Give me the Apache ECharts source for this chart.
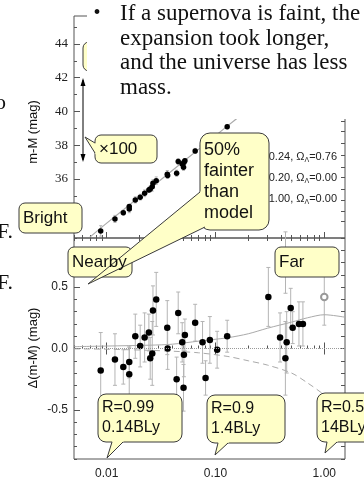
<!DOCTYPE html>
<html>
<head>
<meta charset="utf-8">
<script src="https://cdn.jsdelivr.net/npm/echarts@6.0.0/dist/echarts.min.js"></script>
<style>
html, body { margin: 0; padding: 0; background: #fff; }
#main { width: 364px; height: 485px; }
</style>
</head>
<body>
<div id="main"></div>
<script>
// supernovae: redshift, distance modulus (top), residual vs empty-ish model (bottom), error
var snZ     = [0.0088, 0.0119, 0.0142, 0.0161, 0.0161, 0.0183, 0.0203, 0.0223, 0.0244, 0.0251, 0.0262, 0.0266, 0.0285,
               0.0360, 0.0363, 0.0454, 0.0439, 0.0494, 0.0523, 0.0512, 0.0508, 0.0650, 0.0760, 0.0810, 0.0887, 0.1035, 0.1280,
               0.306, 0.392, 0.439, 0.451, 0.491, 0.512, 0.585, 0.636, 0.440];
var snMu    = [32.92, 33.63, 34.00, 34.36, 34.22, 34.76, 34.92, 35.15, 35.35, 35.41, 35.54, 35.75, 35.90,
               36.28, 36.20, 37.03, 36.34, 36.89, 37.08, 36.97, 36.70, 37.66, 37.95, 37.80, 38.25, 38.45, 39.10,
               41.55, 41.75, 41.95, 42.10, 42.55, 42.45, 42.80, 43.00, 42.70];
var snDelta = [-0.18, -0.09, -0.15, -0.11, -0.21, 0.10, 0.02, 0.09, 0.13, -0.08, -0.04, 0.31, 0.40,
               0.17, 0.00, 0.29, -0.25, 0.05, 0.11, -0.05, -0.32, 0.21, 0.05, -0.24, 0.07, -0.01, 0.10,
               0.42, 0.09, -0.08, 0.05, 0.33, 0.17, 0.20, 0.20, 0.70];
var snErr   = [0.31, 0.21, 0.14, 0.13, 0.22, 0.18, 0.17, 0.20, 0.15, 0.17, 0.26, 0.20, 0.22,
               0.22, 0.17, 0.17, 0.18, 0.16, 0.13, 0.18, 0.19, 0.15, 0.17, 0.14, 0.19, 0.15, 0.13,
               0.24, 0.20, 0.30, 0.25, 0.16, 0.13, 0.18, 0.18, 0.25];
// the one open symbol
var openZ = [1.0];
var openMu = [44.3];
var openDelta = [0.42];
var openErr = [0.23];

// Hubble line in the top panel
var fitZ  = [0.007, 0.01, 0.02, 0.05, 0.1, 0.15, 0.2, 0.3, 0.5, 0.7, 1.0, 1.55];
var fitMu = [32.55, 33.38, 34.94, 37.0, 38.57, 39.48, 40.1, 41.0, 42.15, 42.9, 43.8, 44.8];

// model curves in the bottom panel
var curveZ      = [0.005, 0.01, 0.025, 0.04, 0.07, 0.13, 0.2, 0.3, 0.5, 0.7, 1.0, 1.55];
var lambdaDelta = [0.015, 0.02, 0.027, 0.035, 0.06, 0.088, 0.12, 0.165, 0.215, 0.25, 0.275, 0.255];
var matterDelta = [-0.003, -0.006, -0.015, -0.022, -0.035, -0.065, -0.1, -0.135, -0.2, -0.28, -0.38, -0.55];

// ticks
var xLabels = [0.01, 0.1, 1];
var xMinor = [0.005, 0.006, 0.007, 0.008, 0.009, 0.02, 0.03, 0.04, 0.05, 0.06, 0.07, 0.08, 0.09,
              0.2, 0.3, 0.4, 0.5, 0.6, 0.7, 0.8, 0.9];
var topLabels = [34, 36, 38, 40, 42, 44];
var topMinor = [33, 35, 37, 39, 41, 43, 45];
var topRight = [33.5, 34.1, 34.75, 35.4, 36.1, 36.7, 37.4, 38.1, 38.8, 39.45];
var botLabels = [-0.5, 0, 0.5];
var botMinor = [-0.9, -0.8, -0.7, -0.6, -0.4, -0.3, -0.2, -0.1, 0.1, 0.2, 0.3, 0.4, 0.6, 0.7, 0.8, 0.9];
var botRight = [-0.9, -0.8, -0.7, -0.6, -0.5, -0.4, -0.3, -0.2, -0.1, 0, 0.1, 0.2, 0.3, 0.4, 0.5, 0.6, 0.7, 0.8, 0.9];

var modelNames = [['0.24', '0.76'], ['0.20', '0.00'], ['1.00', '0.00']];

var xMin = 0.005, xMax = 1.55;
var frame = '#555';
var boxFill = '#ffffc8', boxLine = '#3a3a3a';
var sans = 'Liberation Sans', serif = 'Liberation Serif';

function xPart(grid, pos, ticks, len, labels) {
  return {
    type: 'log', logBase: 10, gridIndex: grid, position: pos, min: xMin, max: xMax,
    axisLine: { show: false },
    splitLine: { show: false },
    axisTick: { show: true, inside: true, length: len, customValues: ticks, lineStyle: { color: frame } },
    axisLabel: labels ? {
      show: true, customValues: labels, margin: 9, fontSize: 12, fontFamily: sans, color: '#222',
      formatter: function(v) { return (+v).toFixed(2); }
    } : { show: false }
  };
}

function yPart(grid, pos, min, max, ticks, len, labels, fmt, font) {
  return {
    type: 'value', gridIndex: grid, position: pos, min: min, max: max,
    axisLine: { show: false },
    splitLine: { show: false },
    axisTick: { show: true, inside: true, length: len, customValues: ticks, lineStyle: { color: frame } },
    axisLabel: labels ? {
      show: true, customValues: labels, margin: 6, fontSize: font == serif ? 13 : 12, fontFamily: font, color: '#222',
      formatter: fmt
    } : { show: false }
  };
}

function pairs(xs, ys) {
  return xs.map(function(x, i) { return [x, ys[i]]; });
}

function errorSeries(xi, yi, xs, ys, es, cap) {
  return {
    type: 'custom', xAxisIndex: xi, yAxisIndex: yi, clip: false, z: 1, silent: true,
    encode: { x: 0, y: 1 },
    data: xs.map(function(x, i) { return [x, ys[i], es[i]]; }),
    renderItem: function(params, api) {
      var lo = api.coord([api.value(0), api.value(1) - api.value(2)]);
      var hi = api.coord([api.value(0), api.value(1) + api.value(2)]);
      var st = { stroke: '#b4b4b4', lineWidth: 1 };
      return { type: 'group', children: [
        { type: 'line', shape: { x1: lo[0], y1: lo[1], x2: hi[0], y2: hi[1] }, style: st },
        { type: 'line', shape: { x1: lo[0] - cap, y1: lo[1], x2: lo[0] + cap, y2: lo[1] }, style: st },
        { type: 'line', shape: { x1: hi[0] - cap, y1: hi[1], x2: hi[0] + cap, y2: hi[1] }, style: st }
      ] };
    }
  };
}

// speech-bubble annotations
function callout(x, y, w, h, r, tail, lines, size, gap) {
  var els = [];
  els.push({ type: 'rect', z: 100, shape: { x: x, y: y, width: w, height: h, r: r },
    style: { fill: boxFill, stroke: boxLine, lineWidth: 1 } });
  if (tail) {
    var t = tail[1];
    var inner = [tail[0], tail[2]].map(function(b) {
      var dx = b[0] - t[0], dy = b[1] - t[1], d = Math.sqrt(dx * dx + dy * dy);
      return [b[0] + dx / d * 2, b[1] + dy / d * 2];
    });
    els.push({ type: 'polygon', z: 100, shape: { points: [inner[0], t, inner[1]] }, style: { fill: boxFill } });
    els.push({ type: 'polyline', z: 100, shape: { points: tail }, style: { fill: 'none', stroke: boxLine, lineWidth: 1 } });
  }
  lines.forEach(function(s, i) {
    els.push(label(s, x + 4, y + h / 2 - (lines.length - 1) * gap / 2 + i * gap, size + 'px ' + sans, 'left'));
  });
  return els;
}

function label(s, x, y, font, align, rot) {
  return { type: 'text', z: 101, x: x, y: y, rotation: rot || 0,
    style: { text: s, x: 0, y: 0, font: font, fill: '#111', align: align, textAlign: align,
      verticalAlign: 'middle', textVerticalAlign: 'middle' } };
}

var graphics = [];
// bubble hiding behind the text box
graphics = graphics.concat(callout(83, 42, 70, 29, 6, null, [], 17, 0));
// slide text box
graphics.push({ type: 'rect', z: 100, shape: { x: 87, y: 0, width: 277, height: 119 }, style: { fill: '#fff' } });
graphics.push(label('\u2022', 97, 14, '20px ' + serif, 'center'));
['If a supernova is faint, the', 'expansion took longer,', 'and the universe has less', 'mass.'].forEach(function(s, i) {
  graphics.push(label(s, 120, 14 + i * 24.5, '23px ' + serif, 'left'));
});
// cut-off slide text at the left edge
graphics.push(label('o', -5, 103, '22px ' + serif, 'left'));
graphics.push(label('F.', -3, 232, '22px ' + serif, 'left'));
graphics.push(label('F.', -3, 283, '22px ' + serif, 'left'));

// x100 arrow
graphics.push({ type: 'line', z: 100, shape: { x1: 83, y1: 80, x2: 83, y2: 160 }, style: { stroke: '#000', lineWidth: 1 } });
graphics.push({ type: 'polygon', z: 100, shape: { points: [[80.5, 86], [83, 78], [85.5, 86]] }, style: { fill: '#000' } });
graphics.push({ type: 'polygon', z: 100, shape: { points: [[80.5, 154], [83, 162], [85.5, 154]] }, style: { fill: '#000' } });

graphics = graphics.concat(callout(95, 135, 62, 28, 6, [[95, 143], [85, 137], [95, 153]], ['\u00d7100'], 17, 0));
graphics = graphics.concat(callout(19, 203, 63, 30, 6, null, ['Bright'], 17, 0));

// model legend in the top panel
modelNames.forEach(function(m, i) {
  graphics.push({ type: 'text', z: 99, x: 337, y: 157 + i * 21,
    style: { text: '\u03a9{s|M}=' + m[0] + ', \u03a9{s|\u039b}=' + m[1], x: 0, y: 0,
      font: '11px ' + sans, fill: '#222', align: 'right', textAlign: 'right', verticalAlign: 'middle', textVerticalAlign: 'middle',
      rich: { s: { fontSize: 7, fontFamily: sans, fill: '#222', padding: [6, 0, 0, 0] } } } });
});

graphics = graphics.concat(callout(68, 247, 64, 30, 6, null, ['Nearby'], 17, 0));
graphics = graphics.concat(callout(275, 247, 64, 30, 6, null, ['Far'], 17, 0));
graphics = graphics.concat(callout(200, 133, 69, 97, 10, [[200, 192], [88, 284], [205, 227]], ['50%', 'fainter', 'than', 'model'], 18, 21));
graphics = graphics.concat(callout(98, 394, 84, 48, 8, [[112, 442], [107, 458], [123, 442]], ['R=0.99', '0.14BLy'], 16, 20));
graphics = graphics.concat(callout(207, 395, 78, 48, 8, [[218, 443], [215, 455], [228, 443]], ['R=0.9', '1.4BLy'], 16, 20));
graphics = graphics.concat(callout(317, 393, 60, 49, 8, [[327, 442], [325, 453], [337, 442]], ['R=0.5', '14BLy'], 16, 20));

// axis titles
graphics.push(label('m-M (mag)', 33, 132, '13px ' + sans, 'center', Math.PI / 2));
graphics.push(label('\u0394(m-M) (mag)', 33, 348, '13px ' + sans, 'center', Math.PI / 2));

var chart = echarts.init(document.getElementById('main'));
var option = {
  animation: false,
  backgroundColor: '#fff',
  grid: [
    { left: 74, top: 16, width: 271, height: 222, show: true, borderColor: frame, borderWidth: 1, backgroundColor: 'transparent', outerBoundsMode: 'none' },
    { left: 74, top: 238, width: 271, height: 221, show: true, borderColor: frame, borderWidth: 1, backgroundColor: 'transparent', outerBoundsMode: 'none' }
  ],
  xAxis: [
    xPart(0, 'bottom', xLabels, 6, null),
    xPart(0, 'bottom', xMinor, 3, null),
    xPart(1, 'bottom', xLabels, 6, xLabels),
    xPart(1, 'bottom', xMinor, 3, null),
    xPart(1, 'top', xLabels, 6, null),
    xPart(1, 'top', xMinor, 3, null)
  ],
  yAxis: [
    yPart(0, 'left', 32.5, 45.66, topLabels, 6, topLabels, function(v) { return Math.round(v); }, serif),
    yPart(0, 'left', 32.5, 45.66, topMinor, 3, null),
    yPart(0, 'right', 32.5, 45.66, topRight, 4, null),
    yPart(1, 'left', -0.9, 0.9, botLabels, 6, botLabels, function(v) { return (+v).toFixed(1); }, sans),
    yPart(1, 'left', -0.9, 0.9, botMinor, 3, null),
    yPart(1, 'right', -0.9, 0.9, botRight, 4, null)
  ],
  graphic: { elements: graphics },
  series: [
    { type: 'line', xAxisIndex: 0, yAxisIndex: 0, data: pairs(fitZ, fitMu), smooth: 0.3, showSymbol: false, silent: true,
      lineStyle: { color: '#aaa', width: 1.2 }, z: 1 },
    errorSeries(0, 0, snZ, snMu, snErr, 1.5),
    { type: 'scatter', xAxisIndex: 0, yAxisIndex: 0, data: pairs(snZ, snMu), symbolSize: 5.5, itemStyle: { color: '#000', opacity: 1 } },
    { type: 'scatter', xAxisIndex: 0, yAxisIndex: 0, data: pairs(openZ, openMu), symbol: 'emptyCircle', symbolSize: 6, itemStyle: { color: '#999', opacity: 1 } },

    { type: 'line', xAxisIndex: 2, yAxisIndex: 3, data: pairs(curveZ, lambdaDelta), smooth: 0.3, showSymbol: false, silent: true,
      lineStyle: { color: '#aaa', width: 1 }, z: 1,
      markLine: { silent: true, symbol: 'none', label: { show: false }, data: [{ yAxis: 0 }],
        lineStyle: { color: '#999', type: 'dotted', width: 1 } } },
    { type: 'line', xAxisIndex: 2, yAxisIndex: 3, data: pairs(curveZ, matterDelta), smooth: 0.3, showSymbol: false, silent: true,
      lineStyle: { color: '#aaa', width: 1, type: [6, 4] }, z: 1 },
    errorSeries(2, 3, snZ, snDelta, snErr, 2),
    errorSeries(2, 3, openZ, openDelta, openErr, 2),
    { type: 'scatter', xAxisIndex: 2, yAxisIndex: 3, data: pairs(snZ, snDelta), symbolSize: 6.5, itemStyle: { color: '#000', opacity: 1 } },
    { type: 'scatter', xAxisIndex: 2, yAxisIndex: 3, data: pairs(openZ, openDelta), symbol: 'emptyCircle', symbolSize: 6.5, itemStyle: { color: '#999', opacity: 1 } }
  ]
};
chart.setOption(option);
</script>
</body>
</html>
